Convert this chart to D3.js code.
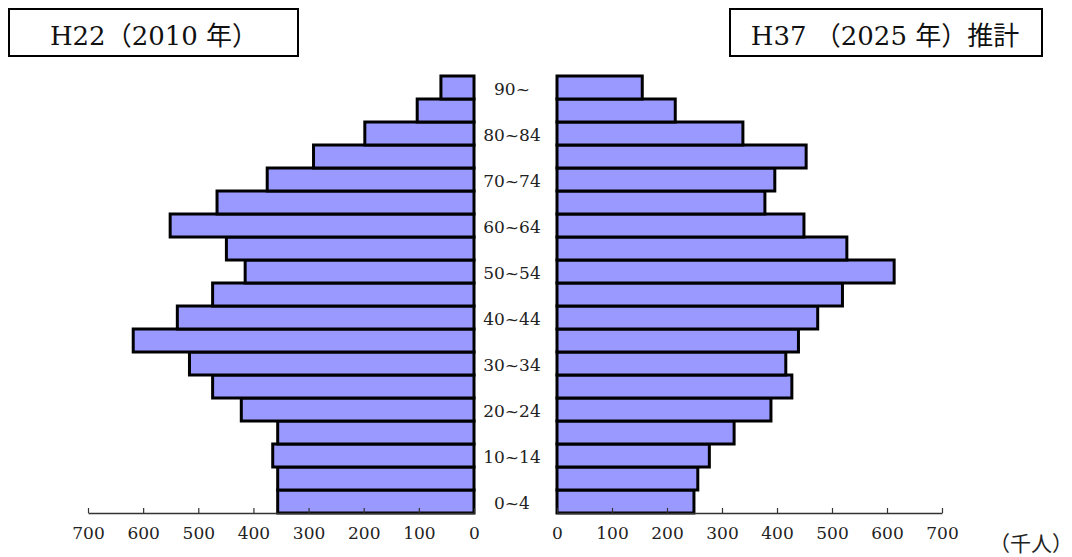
<!DOCTYPE html>
<html>
<head>
<meta charset="utf-8">
<script src="https://cdn.jsdelivr.net/npm/d3@7"></script>
<style>
  html, body { margin: 0; padding: 0; background: #fff; }
  svg { display: block; }
</style>
</head>
<body>
<svg id="chart" width="1072" height="557"></svg>
<script>
// ---- data ----
const ageGroups = ["0~4","5~9","10~14","15~19","20~24","25~29","30~34","35~39","40~44",
                   "45~49","50~54","55~59","60~64","65~69","70~74","75~79","80~84","85~89","90~"];
// show label on every other group
const shownLabels = ["0~4","10~14","20~24","30~34","40~44","50~54","60~64","70~74","80~84","90~"];
const pop2010 = [356, 356, 365, 356, 422, 474, 516, 618, 538, 474, 415, 449, 551, 466, 375, 291, 198, 103, 60];
const pop2025 = [249, 256, 277, 322, 389, 427, 416, 439, 474, 519, 613, 527, 449, 378, 396, 453, 338, 215, 155];
const tickValues = [0, 100, 200, 300, 400, 500, 600, 700];
const titleLeft = "H22（2010 年）";
const titleRight = "H37 （2025 年）推計";
const unitLabel = "（千人）";

const svg = d3.select("#chart");
const latin = "'DejaVu Serif', 'Liberation Serif', serif";
const cjk = "'DejaVu Serif', 'Noto Sans CJK JP', serif";

const y = d3.scaleBand().domain(ageGroups).range([513, 76]).padding(0);
const xL = d3.scaleLinear().domain([0, 700]).range([474, 88]);
const xR = d3.scaleLinear().domain([0, 700]).range([557, 942]);

const fill = "#9999ff";

// left bars
svg.append("g").selectAll("rect")
  .data(ageGroups.map((a, i) => ({a, v: pop2010[i]})))
  .join("rect")
  .attr("x", d => xL(d.v))
  .attr("y", d => y(d.a))
  .attr("width", d => xL(0) - xL(d.v))
  .attr("height", y.bandwidth())
  .attr("fill", fill)
  .attr("stroke", "#000")
  .attr("stroke-width", 3);

// right bars
svg.append("g").selectAll("rect")
  .data(ageGroups.map((a, i) => ({a, v: pop2025[i]})))
  .join("rect")
  .attr("x", d => xR(0))
  .attr("y", d => y(d.a))
  .attr("width", d => xR(d.v) - xR(0))
  .attr("height", y.bandwidth())
  .attr("fill", fill)
  .attr("stroke", "#000")
  .attr("stroke-width", 3);

// axes
function styleAxis(g) {
  g.select(".domain").attr("stroke", "#333").attr("stroke-width", 1.6);
  g.selectAll(".tick line").attr("stroke", "#333").attr("stroke-width", 1.2);
  g.selectAll(".tick text").attr("fill", "#222")
    .style("font-family", latin).style("font-size", "17px");
}
const axL = d3.axisBottom(xL).tickValues(tickValues).tickSizeInner(-5).tickSizeOuter(0).tickPadding(14);
const axR = d3.axisBottom(xR).tickValues(tickValues).tickSizeInner(-5).tickSizeOuter(0).tickPadding(14);
svg.append("g").attr("transform", "translate(0,513)").call(axL).call(styleAxis);
svg.append("g").attr("transform", "translate(0,513)").call(axR).call(styleAxis);

// age labels
svg.append("g").selectAll("text")
  .data(shownLabels)
  .join("text")
  .attr("x", 512)
  .attr("y", d => y(d) + y.bandwidth() / 2 + 3)
  .attr("text-anchor", "middle")
  .attr("dominant-baseline", "middle")
  .attr("fill", "#222")
  .style("font-family", latin)
  .style("font-size", "17px")
  .text(d => d);

// title boxes
const boxes = [
  {x: 9, w: 289, text: titleLeft, cx: 154},
  {x: 730, w: 312, text: titleRight, cx: 885}
];
const bg = svg.append("g").selectAll("g").data(boxes).join("g");
bg.append("rect")
  .attr("x", d => d.x).attr("y", 9)
  .attr("width", d => d.w).attr("height", 47)
  .attr("fill", "#fff").attr("stroke", "#000").attr("stroke-width", 2);
bg.append("text")
  .attr("x", d => d.cx).attr("y", 45)
  .attr("text-anchor", "middle")
  .attr("fill", "#111")
  .style("font-family", cjk)
  .style("font-size", "26px")
  .text(d => d.text);

// unit label
svg.append("text")
  .attr("x", 989).attr("y", 551)
  .attr("fill", "#222")
  .style("font-family", "'Noto Sans CJK JP', sans-serif")
  .style("font-size", "21px")
  .text(unitLabel);
</script>
</body>
</html>
